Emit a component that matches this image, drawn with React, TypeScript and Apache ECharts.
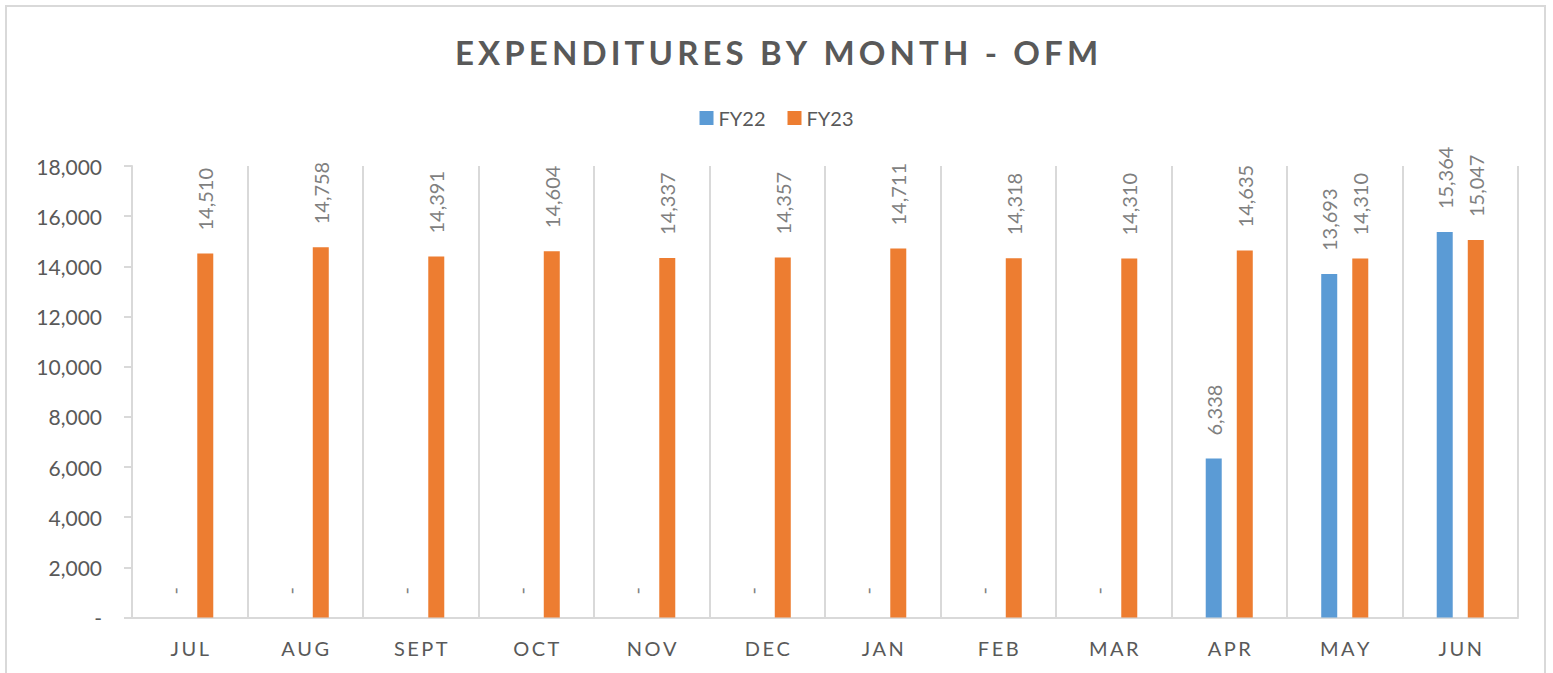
import React, { useEffect, useRef } from "react";
import * as echarts from "echarts";

const months = ["JUL", "AUG", "SEPT", "OCT", "NOV", "DEC", "JAN", "FEB", "MAR", "APR", "MAY", "JUN"];
const fy22 = [0, 0, 0, 0, 0, 0, 0, 0, 0, 6338, 13693, 15364];
const fy23 = [14510, 14758, 14391, 14604, 14337, 14357, 14711, 14318, 14310, 14635, 14310, 15047];
const titleText = "EXPENDITURES BY MONTH - OFM";

const FONT = "Lato, 'DejaVu Sans', sans-serif";
const spaced = (s: string, sep: string) => s.split("").join(sep);
const fmt = (v: number) => (v === 0 ? "-" : v.toLocaleString("en-US"));

export default function App() {
  const ref = useRef<HTMLDivElement>(null);
  useEffect(() => {
    if (!ref.current) return;
    const chart = echarts.init(ref.current, undefined, { renderer: "svg" });
    const label = {
      show: true,
      position: "top",
      rotate: 90,
      align: "left",
      verticalAlign: "middle",
      distance: 23,
      color: "#7f7f7f",
      fontSize: 20,
      fontFamily: FONT,
      formatter: (p: any) => fmt(p.value),
    };
    chart.setOption({
      animation: false,
      backgroundColor: "#ffffff",
      title: {
        text: spaced(titleText, "\u2009"),
        left: "center",
        top: 30,
        textStyle: { color: "#595959", fontSize: 33, fontWeight: "bold", fontFamily: FONT },
      },
      legend: {
        top: 103,
        left: "center",
        itemWidth: 14,
        itemHeight: 14,
        itemGap: 22,
        icon: "rect",
        textStyle: { color: "#595959", fontSize: 20, fontFamily: FONT },
        data: ["FY22", "FY23"],
      },
      graphic: [
        {
          type: "rect",
          shape: { x: 6, y: 6, width: 1539, height: 700 },
          style: { fill: "none", stroke: "#d9d9d9", lineWidth: 2 },
          silent: true,
        },
      ],
      grid: { left: 132, right: 35, top: 166, bottom: 55.5, containLabel: false },
      xAxis: {
        type: "category",
        data: months,
        axisLine: { show: true, lineStyle: { color: "#d9d9d9", width: 2 } },
        axisTick: { show: false },
        splitLine: { show: true, interval: 0, lineStyle: { color: "#d9d9d9", width: 2 } },
        axisLabel: {
          margin: 20,
          color: "#595959",
          fontSize: 20,
          fontFamily: FONT,
          formatter: (v: string) => spaced(v, "\u2009"),
        },
      },
      yAxis: {
        type: "value",
        min: 0,
        max: 18000,
        interval: 2000,
        axisLine: { show: true, lineStyle: { color: "#d9d9d9", width: 2 } },
        axisTick: { show: true, length: 8, lineStyle: { color: "#d9d9d9", width: 2 } },
        splitLine: { show: false },
        axisLabel: {
          margin: 30,
          color: "#595959",
          fontSize: 21,
          fontFamily: FONT,
          formatter: (v: number) => fmt(v),
        },
      },
      series: [
        {
          name: "FY22",
          type: "bar",
          data: fy22,
          barWidth: 16,
          barGap: "94%",
          itemStyle: { color: "#5b9bd5" },
          label,
        },
        {
          name: "FY23",
          type: "bar",
          data: fy23,
          barWidth: 16,
          barGap: "94%",
          itemStyle: { color: "#ed7d31" },
          label,
        },
      ],
    });
    return () => chart.dispose();
  }, []);
  return (
    <div
      ref={ref}
      style={{ position: "fixed", left: 0, top: 0, width: 1553, height: 673 }}
    />
  );
}
